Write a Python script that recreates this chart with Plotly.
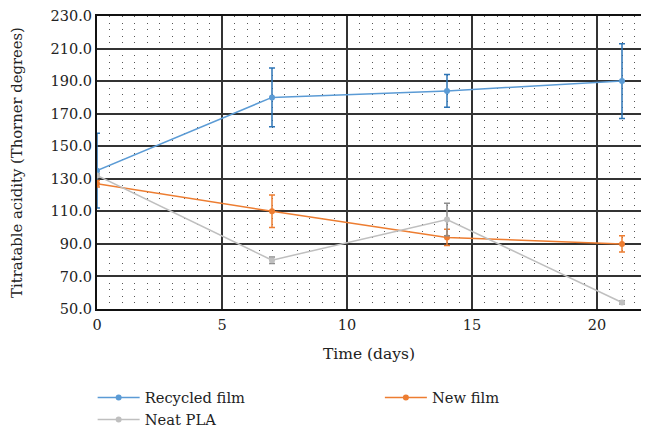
import plotly.graph_objects as go

days = [0, 7, 14, 21]
recycled = [135, 180, 184, 190]
recycled_err = [23, 18, 10, 23]
new_film = [127, 110, 94, 90]
new_film_err = [2, 10, 5, 5]
neat_pla = [132, 80, 105, 54]
neat_pla_err = [1, 2, 10, 1]

y_ticks = [50, 70, 90, 110, 130, 150, 170, 190, 210, 230]
y_labels = [f"{v:.1f}" for v in y_ticks]
x_ticks = [0, 5, 10, 15, 20]

FONT = "DejaVu Serif"

fig = go.Figure()

def add(name, y, err, color, ecolor, legend):
    fig.add_trace(go.Scatter(
        x=days, y=y, name=name, mode="lines+markers", legend=legend,
        line=dict(color=color, width=1.5),
        marker=dict(color=color, size=6, symbol="circle"),
        error_y=dict(type="data", array=err, visible=True, color=ecolor,
                     thickness=1.5, width=3),
    ))

add("Recycled film", recycled, recycled_err, "#5B9BD5", "#2E75B6", "legend")
add("New film", new_film, new_film_err, "#ED7D31", "#ED7D31", "legend2")
add("Neat PLA", neat_pla, neat_pla_err, "#BFBFBF", "#8C8C8C", "legend")

legend_common = dict(orientation="v", yanchor="top", y=-0.247, xanchor="left",
                     font=dict(family=FONT, size=14.7, color="#222"),
                     bgcolor="rgba(0,0,0,0)", itemwidth=42)

# page body has an 8px default margin; figure sized to fit the 649x436 window
fig.update_layout(
    width=633, height=420,
    margin=dict(l=89, r=0, t=8, b=119, autoexpand=False),
    paper_bgcolor="white", plot_bgcolor="white",
    font=dict(family=FONT, size=14.5, color="#222"),
    legend=dict(x=-0.008, **legend_common),
    legend2=dict(x=0.52, **legend_common),
    xaxis=dict(
        range=[0, 21.76], tickvals=x_ticks, ticktext=[str(v) for v in x_ticks],
        automargin=False, ticklabelstandoff=2,
        showgrid=True, gridcolor="#333", gridwidth=1.5,
        showline=True, linecolor="#111", linewidth=2, mirror=True,
        zeroline=False, ticks="", tickfont=dict(size=14.5),
        title=dict(text="Time (days)", font=dict(size=15.5), standoff=16),
        minor=dict(dtick=0.5, tick0=0, showgrid=True, gridcolor="#555",
                   gridwidth=1, griddash="1px,5.51px"),
    ),
    yaxis=dict(
        range=[50, 230], tickvals=y_ticks, ticktext=y_labels,
        automargin=False,
        showgrid=True, gridcolor="#333", gridwidth=1.5,
        showline=True, linecolor="#111", linewidth=2, mirror=True,
        zeroline=False, ticks="", tickfont=dict(size=14.5),
        title=dict(text="Titratable acidity (Thorner degrees)", font=dict(size=14.8), standoff=24),
    ),
)

fig.write_html("out.html")
